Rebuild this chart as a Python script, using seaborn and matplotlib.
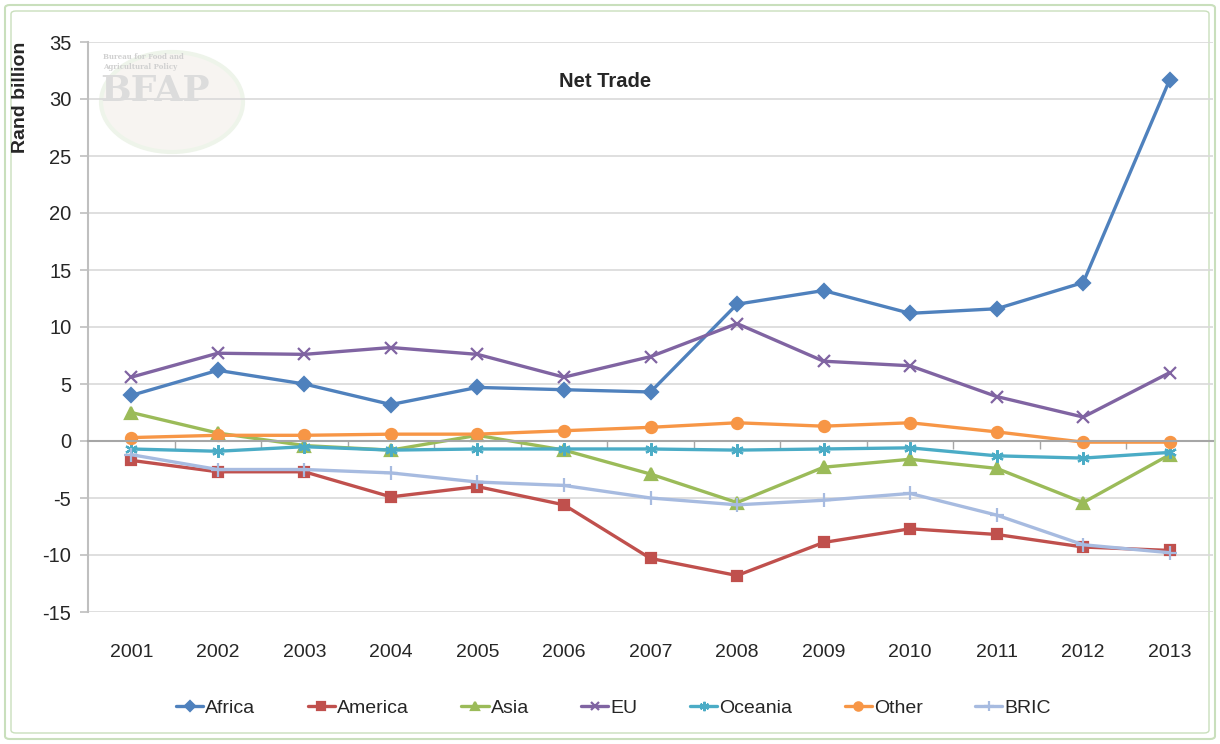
import pandas as pd
import matplotlib.pyplot as plt
import seaborn as sns
from matplotlib.patches import FancyBboxPatch, Ellipse

# data (Rand billion)
years = ['2001', '2002', '2003', '2004', '2005', '2006', '2007',
         '2008', '2009', '2010', '2011', '2012', '2013']
africa = [4.0, 6.2, 5.0, 3.2, 4.7, 4.5, 4.3, 12.0, 13.2, 11.2, 11.6, 13.9, 31.7]
america = [-1.7, -2.7, -2.7, -4.9, -4.0, -5.6, -10.3, -11.8, -8.9, -7.7, -8.2, -9.3, -9.6]
asia = [2.5, 0.7, -0.4, -0.8, 0.5, -0.8, -2.9, -5.4, -2.3, -1.6, -2.4, -5.4, -1.2]
eu = [5.6, 7.7, 7.6, 8.2, 7.6, 5.6, 7.4, 10.3, 7.0, 6.6, 3.9, 2.1, 6.0]
oceania = [-0.7, -0.9, -0.5, -0.8, -0.7, -0.7, -0.7, -0.8, -0.7, -0.6, -1.3, -1.5, -1.0]
other = [0.3, 0.5, 0.5, 0.6, 0.6, 0.9, 1.2, 1.6, 1.3, 1.6, 0.8, -0.1, -0.1]
bric = [-1.2, -2.5, -2.5, -2.8, -3.6, -3.9, -5.0, -5.6, -5.2, -4.6, -6.5, -9.1, -9.8]

regions = ['Africa', 'America', 'Asia', 'EU', 'Oceania', 'Other', 'BRIC']
series = [africa, america, asia, eu, oceania, other, bric]
colors = ['#4F81BD', '#C0504D', '#9BBB59', '#8064A2', '#4BACC6', '#F79646', '#A7BBE0']
markers = ['D', 's', '^', 'x', (6, 2, 0), 'o', '+']
msizes = [7, 7.5, 8, 8, 9, 8, 10]

rows = []
for name, vals in zip(regions, series):
    for i, v in enumerate(vals):
        rows.append({'pos': i, 'Region': name, 'value': v})
df = pd.DataFrame(rows)

sns.set_theme(style='white')
plt.rcParams['font.family'] = ['Liberation Sans', 'DejaVu Sans']
plt.rcParams['axes.unicode_minus'] = False

W, H = 1220, 744
fig = plt.figure(figsize=(12.2, 7.44), dpi=100)
ax = fig.add_axes([88 / W, 1 - 612 / H, (1213 - 88) / W, 570 / H])
ax.set_facecolor('none')

# green double frame around the chart
for pad, lw in [(5, 1.5), (11, 1.0)]:
    fig.patches.append(FancyBboxPatch((pad / W, pad / H), 1 - 2 * pad / W, 1 - 2 * pad / H,
                                      boxstyle='round,pad=0,rounding_size=0.004',
                                      transform=fig.transFigure, fill=False,
                                      edgecolor='#C9DFBC', linewidth=lw, zorder=-1))

# faded logo
fig.patches.append(Ellipse((172 / W, 1 - 102 / H), 142 / W, 100 / H, transform=fig.transFigure,
                           facecolor='#F7F4F1', edgecolor='#EEF4EA', linewidth=3, zorder=-2))
fig.text(103 / W, 1 - 62 / H, 'Bureau for Food and\nAgricultural Policy', fontsize=5, color='#D0D0D0',
         family='DejaVu Serif', fontweight='bold', va='center')
fig.text(100 / W, 1 - 91 / H, 'BFAP', fontsize=26, color='#DCDCDC', family='DejaVu Serif',
         fontweight='bold', va='center')

ax.yaxis.grid(True, color='#D9D9D9', linewidth=1.2)
ax.set_axisbelow(True)

for name, c, m, ms in zip(regions, colors, markers, msizes):
    sub = df[df['Region'] == name]
    sns.lineplot(data=sub, x='pos', y='value', color=c, marker=m, linewidth=2.4,
                 markersize=ms, markeredgewidth=1.6, markeredgecolor=c, label=name, ax=ax)

ax.set_xlim(-0.5, len(years) - 0.5)
ax.set_ylim(-15, 35)
ax.set_yticks(range(-15, 36, 5))
ax.set_xticks(range(len(years)))
ax.set_xticklabels(years)
ax.set_xticks([i + 0.5 for i in range(len(years) - 1)], minor=True)

for s in ['top', 'right']:
    ax.spines[s].set_visible(False)
ax.spines['left'].set_color('#BFBFBF')
ax.spines['left'].set_linewidth(1.5)
ax.spines['bottom'].set_position(('data', 0))
ax.spines['bottom'].set_color('#A6A6A6')
ax.spines['bottom'].set_linewidth(1.5)

ax.tick_params(axis='x', which='major', length=0, pad=146, labelsize=14)
ax.tick_params(axis='x', which='minor', length=6, width=1, color='#A6A6A6', direction='out', bottom=True)
ax.tick_params(axis='y', length=6, width=1.2, color='#BFBFBF', left=True, labelsize=14.5, pad=6)

ax.set_xlabel('')
ax.set_ylabel('Rand billion', fontsize=14, fontweight='bold', loc='top')
ax.yaxis.set_label_coords(-0.052, 1.0)
ax.text(0.46, 0.93, 'Net Trade', transform=ax.transAxes, ha='center', va='center',
        fontsize=14.5, fontweight='bold')

ax.legend(loc='center', bbox_to_anchor=(0.467, -0.168), ncol=7, frameon=False,
          fontsize=14, handlelength=1.4, handletextpad=0.1, columnspacing=2.7, markerscale=0.75)

fig.savefig('out.png', dpi=100)
